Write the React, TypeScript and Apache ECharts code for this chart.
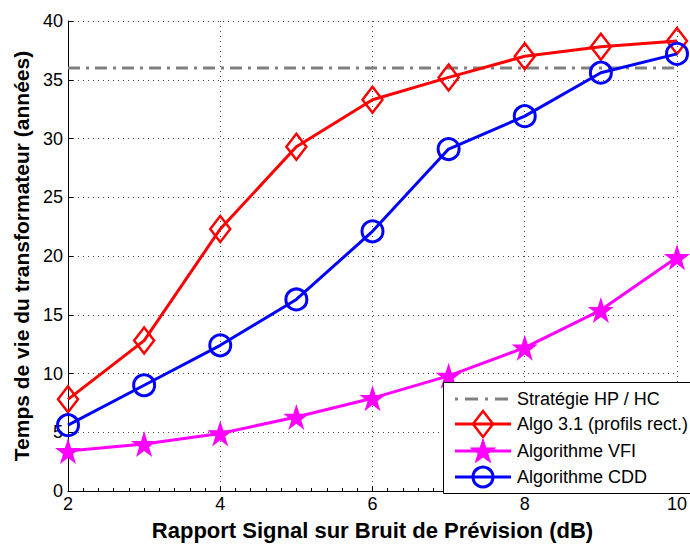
import React, { useEffect, useRef } from "react";
import * as echarts from "echarts";

const snr = [2, 3, 4, 5, 6, 7, 8, 9, 10];
const algo31 = [7.8, 12.8, 22.3, 29.3, 33.3, 35.2, 37.0, 37.8, 38.3];
const vfi = [3.4, 4.0, 4.9, 6.3, 7.9, 9.8, 12.2, 15.4, 19.9];
const cdd = [5.6, 9.0, 12.4, 16.3, 22.1, 29.1, 31.9, 35.6, 37.2];
const hphcX = [2, 10];
const hphcValue = 36;

const names = ["Stratégie HP / HC", "Algo 3.1 (profils rect.)", "Algorithme VFI", "Algorithme CDD"];
const colors = ["#808080", "#ff0000", "#ff00ff", "#0000ff"];

const STAR = "path://M50,0 L61.8,36.2 L100,36.2 L69.1,58.6 L80.9,95.1 L50,72.7 L19.1,95.1 L30.9,58.6 L0,36.2 L38.2,36.2 Z";

function starPoints(cx: number, cy: number, r: number) {
  const pts: number[][] = [];
  for (let i = 0; i < 10; i++) {
    const rr = i % 2 === 0 ? r : r * 0.382;
    const a = -Math.PI / 2 + (i * Math.PI) / 5;
    pts.push([cx + rr * Math.cos(a), cy + rr * Math.sin(a)]);
  }
  return pts;
}

export default function App() {
  const ref = useRef<HTMLDivElement>(null);
  useEffect(() => {
    const chart = echarts.init(ref.current!, undefined, { renderer: "svg" });
    const font = "'Liberation Sans', Arial, sans-serif";
    const pair = (xs: number[], ys: number[]) => xs.map((x, i) => [x, ys[i]]);

    // legend drawn by hand (MATLAB style)
    const lgX = 443, lgY = 382, lgW = 260, lgH = 111;
    const rowsY = [399, 424, 451, 477];
    const lx0 = 455, lx1 = 511, sx = 483, tx = 517;
    const legendEls: any[] = [
      { type: "rect", shape: { x: lgX + 0.5, y: lgY + 0.5, width: lgW, height: lgH }, style: { fill: "#fff", stroke: "#000", lineWidth: 1 }, z: 10 },
    ];
    rowsY.forEach((y, i) => {
      legendEls.push({
        type: "line",
        shape: { x1: lx0, y1: y, x2: lx1, y2: y },
        style: i === 0
          ? { stroke: colors[i], lineWidth: 3, lineDash: [3, 7, 13, 7], lineDashOffset: 0 }
          : { stroke: colors[i], lineWidth: 3 },
        z: 11,
      });
      if (i === 1) {
        legendEls.push({ type: "polygon", shape: { points: [[sx - 10, y], [sx, y - 13], [sx + 10, y], [sx, y + 13]] }, style: { fill: "none", stroke: colors[i], lineWidth: 2.5 }, z: 12 });
      } else if (i === 2) {
        legendEls.push({ type: "polygon", shape: { points: starPoints(sx, y + 1, 13) }, style: { fill: colors[i], stroke: colors[i], lineWidth: 1 }, z: 12 });
      } else if (i === 3) {
        legendEls.push({ type: "circle", shape: { cx: sx, cy: y, r: 10 }, style: { fill: "none", stroke: colors[i], lineWidth: 3 }, z: 12 });
      }
      legendEls.push({
        type: "text",
        x: tx,
        y: y,
        style: { text: names[i], fontSize: 18, fontFamily: font, fill: "#000", verticalAlign: "middle", align: "left" },
        z: 12,
      });
    });

    chart.setOption({
      animation: false,
      textStyle: { fontFamily: font },
      grid: { left: 68, right: 10, top: 21, bottom: 51 },
      xAxis: {
        type: "value",
        min: 2,
        max: 10,
        interval: 2,
        name: "Rapport Signal sur Bruit de Prévision (dB)",
        nameLocation: "middle",
        nameGap: 28,
        nameTextStyle: { fontSize: 22, fontWeight: "bold", color: "#000", fontFamily: font },
        axisLine: { lineStyle: { color: "#000", width: 1 } },
        axisTick: { inside: true, length: 5, lineStyle: { color: "#000" } },
        minorTick: { show: true, splitNumber: 10, length: 3, lineStyle: { color: "#000" } },
        axisLabel: { fontSize: 18, color: "#000", fontFamily: font, margin: 4 },
        splitLine: { show: true, lineStyle: { type: [1, 4], color: "#444" } },
      },
      yAxis: {
        type: "value",
        min: 0,
        max: 40,
        interval: 5,
        name: "Temps de vie du transformateur (années)",
        nameLocation: "middle",
        nameGap: 36,
        nameTextStyle: { fontSize: 21, fontWeight: "bold", color: "#000", fontFamily: font },
        axisLine: { show: true, lineStyle: { color: "#000", width: 1 } },
        axisTick: { show: true, inside: true, length: 5, lineStyle: { color: "#000" } },
        axisLabel: { fontSize: 18, color: "#000", fontFamily: font, margin: 5 },
        splitLine: { show: true, lineStyle: { type: [1, 4], color: "#444" } },
      },
      graphic: legendEls,
      series: [
        {
          name: names[0],
          type: "line",
          data: hphcX.map((x) => [x, hphcValue]),
          symbol: "none",
          lineStyle: { color: colors[0], width: 3, type: [12, 6, 3, 6] },
          itemStyle: { color: colors[0] },
          z: 1,
        },
        {
          name: names[1],
          type: "line",
          data: pair(snr, algo31),
          symbol: "diamond",
          symbolSize: [20, 26],
          lineStyle: { color: colors[1], width: 3 },
          itemStyle: { color: "rgba(255,255,255,0)", borderColor: colors[1], borderWidth: 2.5 },
          z: 3,
        },
        {
          name: names[2],
          type: "line",
          data: pair(snr, vfi),
          symbol: STAR,
          symbolSize: 26,
          lineStyle: { color: colors[2], width: 3 },
          itemStyle: { color: colors[2] },
          z: 2,
        },
        {
          name: names[3],
          type: "line",
          data: pair(snr, cdd),
          symbol: "circle",
          symbolSize: 21,
          lineStyle: { color: colors[3], width: 3 },
          itemStyle: { color: "rgba(255,255,255,0)", borderColor: colors[3], borderWidth: 3 },
          z: 4,
        },
      ],
    });
    return () => chart.dispose();
  }, []);
  return <div ref={ref} style={{ width: 690, height: 546, position: "absolute", left: 0, top: 0 }} />;
}
